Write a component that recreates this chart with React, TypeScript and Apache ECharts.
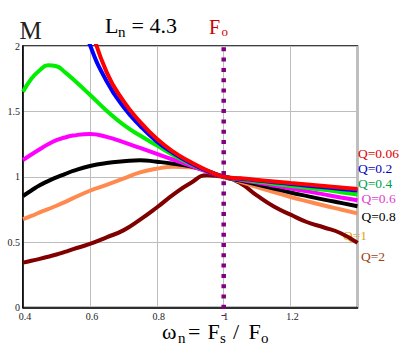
import React, { useEffect, useRef } from "react";
import * as echarts from "echarts";

// normalized frequency ωn = Fs / Fo
const omega = [0.4, 0.425, 0.45, 0.475, 0.5, 0.525, 0.55, 0.6, 0.65, 0.7, 0.75, 0.8, 0.85, 0.9, 0.95, 1.0, 1.05, 1.1, 1.15, 1.2, 1.25, 1.3, 1.35, 1.4];

// gain M for each Q (null = above the plot)
const gainQ006 = [null, null, null, null, null, null, 2.67, 2.17, 1.8, 1.58, 1.42, 1.29, 1.19, 1.115, 1.05, 1.0, 0.988, 0.976, 0.964, 0.952, 0.941, 0.93, 0.918, 0.906];
const gainQ02 = [null, null, null, null, null, null, 2.41, 2.01, 1.73, 1.535, 1.39, 1.27, 1.18, 1.105, 1.045, 1.0, 0.985, 0.972, 0.958, 0.945, 0.932, 0.92, 0.907, 0.895];
const gainQ04 = [1.65, 1.75, 1.815, 1.852, 1.845, 1.8, 1.745, 1.627, 1.505, 1.398, 1.315, 1.24, 1.165, 1.1, 1.045, 1.0, 0.98, 0.963, 0.947, 0.93, 0.915, 0.9, 0.882, 0.865];
const gainQ06 = [1.128, 1.17, 1.21, 1.248, 1.28, 1.3, 1.315, 1.327, 1.305, 1.265, 1.22, 1.175, 1.13, 1.085, 1.04, 1.0, 0.977, 0.955, 0.932, 0.91, 0.888, 0.865, 0.842, 0.82];
const gainQ08 = [0.853, 0.895, 0.935, 0.967, 0.995, 1.02, 1.045, 1.082, 1.105, 1.118, 1.127, 1.115, 1.1, 1.08, 1.045, 1.0, 0.97, 0.94, 0.91, 0.88, 0.852, 0.825, 0.8, 0.775];
const gainQ1 = [0.675, 0.7, 0.727, 0.752, 0.778, 0.806, 0.836, 0.893, 0.938, 0.985, 1.033, 1.062, 1.076, 1.072, 1.045, 1.0, 0.962, 0.92, 0.882, 0.845, 0.812, 0.78, 0.75, 0.72];
const gainQ2 = [0.343, 0.357, 0.372, 0.388, 0.405, 0.425, 0.446, 0.486, 0.537, 0.59, 0.672, 0.765, 0.865, 0.95, 1.012, 1.0, 0.95, 0.855, 0.772, 0.71, 0.652, 0.612, 0.568, 0.495];

const qLabels = ["Q=0.06", "Q=0.2", "Q=0.4", "Q=0.6", "Q=0.8", "Q=1", "Q=2"];
const lineColors = ["#ff0000", "#0000ff", "#00ee00", "#ff00ff", "#000000", "#ff8a50", "#800000"];
const labelColors = ["#e00000", "#0000c0", "#00a050", "#e040d0", "#000000", "#e8a020", "#a04010"];
const gains = [gainQ006, gainQ02, gainQ04, gainQ06, gainQ08, gainQ1, gainQ2];

// resonant frequency marker
const foX = 1.0;
const foSpan = [1.99, -0.065];

const SERIF = "Liberation Serif";

export default function App() {
  const ref = useRef<HTMLDivElement>(null);
  useEffect(() => {
    if (!ref.current) return;
    const chart = echarts.init(ref.current, null, { renderer: "svg" });

    const curveSeries = gains.map((g, i) => ({
      type: "line",
      name: qLabels[i],
      data: omega.map((x, k) => [x, g[k]]).filter((p) => p[1] !== null),
      smooth: 0.5,
      showSymbol: false,
      symbol: "none",
      lineStyle: { color: lineColors[i], width: 4 },
      z: 3 + (6 - i),
      clip: true,
    }));

    const labelPos = [
      [358, 153],
      [358, 168.5],
      [358, 183],
      [361.5, 198],
      [361.5, 216],
      [343, 235],
      [361, 256.5],
    ];

    const txt = (text: string, x: number, y: number, size: number, color: string) => ({
      type: "text",
      x,
      y,
      silent: true,
      style: {
        text,
        fill: color,
        fontSize: size,
        fontFamily: SERIF,
        lineHeight: Math.round(size * 0.9),
        align: "left",
        verticalAlign: "middle",
        textAlign: "left",
        textVerticalAlign: "middle",
      },
    });

    const graphics: any[] = [
      txt("M", 19.5, 30, 25, "#222"),
      txt("L", 105, 25.9, 22, "#000"),
      txt("n", 118, 32.2, 15, "#000"),
      txt("= 4.3", 131.5, 25.9, 22, "#000"),
      txt("F", 209, 26.6, 20, "#d00000"),
      txt("o", 221.5, 31.6, 13, "#d00000"),
      txt("ω", 162, 331.6, 22, "#000"),
      txt("n", 178, 338, 15, "#000"),
      txt("=", 188, 331.6, 22, "#000"),
      txt("F", 207.5, 331.6, 22, "#000"),
      txt("s", 220, 338, 15, "#000"),
      txt("/", 233, 331.6, 22, "#000"),
      txt("F", 248.5, 331.6, 22, "#000"),
      txt("o", 261, 338, 15, "#000"),
    ];
    qLabels.forEach((q, i) => {
      graphics.push(txt(q, labelPos[i][0], labelPos[i][1], 13.5, labelColors[i]));
    });

    chart.setOption({
      animation: false,
      backgroundColor: "#fff",
      textStyle: { fontFamily: SERIF },
      grid: {
        left: 23,
        top: 46,
        right: 55.5,
        bottom: 48.5,
        show: true,
        borderColor: "#000",
        borderWidth: 1.5,
        backgroundColor: "transparent",
      },
      xAxis: {
        type: "value",
        min: 0.4,
        max: 1.4,
        interval: 0.2,
        axisLine: { show: true, lineStyle: { color: "#000", width: 1.5 } },
        axisTick: { show: false },
        splitLine: { show: true, lineStyle: { color: "#bdbdbd", width: 1 } },
        axisLabel: {
          margin: 4.5,
          color: "#222",
          fontSize: 10,
          lineHeight: 9,
          padding: [0, 0, 0, 4],
          fontFamily: SERIF,
          formatter: (v: number) => (Math.abs(v - 1.4) < 1e-6 ? "" : String(+v.toFixed(1))),
        },
      },
      yAxis: {
        type: "value",
        min: 0,
        max: 2,
        interval: 0.5,
        axisLine: { show: true, lineStyle: { color: "#000", width: 1.5 } },
        axisTick: { show: false },
        splitLine: { show: true, lineStyle: { color: "#bdbdbd", width: 1 } },
        axisLabel: {
          margin: 3,
          color: "#222",
          fontSize: 10,
          lineHeight: 9,
          fontFamily: SERIF,
          formatter: (v: number) => String(+v.toFixed(1)),
        },
      },
      series: [
        ...curveSeries,
        {
          type: "line",
          name: "Fo",
          data: foSpan.map((y) => [foX, y]),
          showSymbol: false,
          symbol: "none",
          clip: false,
          lineStyle: { color: "#800080", width: 4.5, type: [4, 6.3] },
          z: 20,
        },
      ],
      graphic: graphics,
    });
    return () => chart.dispose();
  }, []);
  return (
    <div
      ref={ref}
      style={{ position: "fixed", left: 0, top: 0, width: 413, height: 356, background: "#fff" }}
    />
  );
}
